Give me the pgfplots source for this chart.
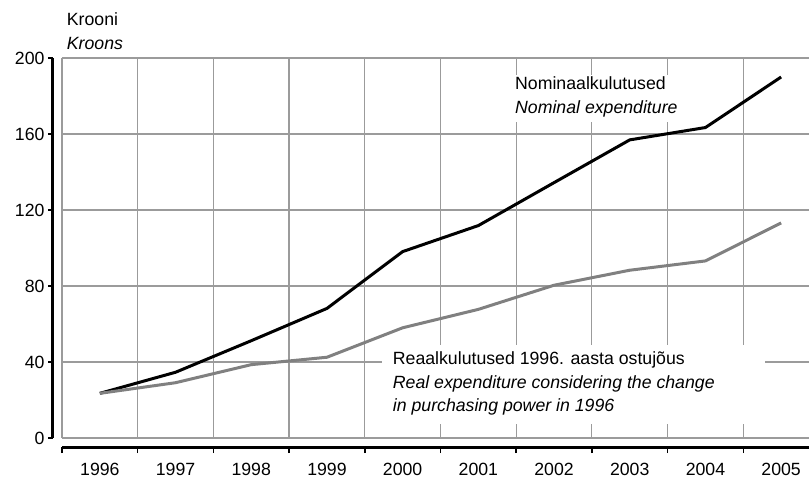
\documentclass[border=0pt]{standalone}
\usepackage{pgfplots}
\pgfplotsset{compat=1.18}
\usepackage{fontspec}
\setmainfont{Liberation Sans}
\definecolor{gridgray}{RGB}{155,155,155}
\definecolor{realgray}{RGB}{128,128,128}
\newcommand{\cf}{\fontsize{17.7}{20}\selectfont}
\begin{document}
\begin{tikzpicture}
\useasboundingbox (-62pt,-41pt) rectangle (747pt,438pt);
% main axis: grid and data
\begin{axis}[at={(0,0)}, anchor=south west, scale only axis,
  width=747pt, height=380pt,
  xmin=1995.5, xmax=2005.368, ymin=0, ymax=200,
  axis line style={draw=none},
  xtick={1995.5,1996.5,1997.5,1998.5,1999.5,2000.5,2001.5,2002.5,2003.5,2004.5},
  ytick={0,40,80,120,160,200},
  xticklabels={}, yticklabels={},
  major tick length=0pt,
  grid=major, grid style={line width=1.2pt, color=gridgray}]
\addplot[black, line width=3pt] coordinates {
 (1996,23.5) (1997,34.6) (1998,51.2) (1999,68.2) (2000,98.1)
 (2001,111.8) (2002,134.4) (2003,156.9) (2004,163.4) (2005,190.0)};
\addplot[realgray, line width=3pt] coordinates {
 (1996,23.5) (1997,29.1) (1998,38.6) (1999,42.5) (2000,58.0)
 (2001,67.7) (2002,80.4) (2003,88.3) (2004,93.2) (2005,113.2)};
\end{axis}
% y axis
\begin{axis}[at={(-9pt,0)}, anchor=south west, scale only axis,
  width=747pt, height=380pt,
  xmin=1995.5, xmax=2005.368, ymin=0, ymax=200,
  axis y line*=left, axis x line=none,
  ytick={0,40,80,120,160,200},
  tick align=outside, major tick length=5pt,
  every tick/.style={black, line width=1.5pt},
  axis line style={line width=3pt, black},
  yticklabel style={font=\cf},
  /pgf/number format/assume math mode=true]
\end{axis}
% x axis
\begin{axis}[at={(0,-9.5pt)}, anchor=south west, scale only axis,
  width=747pt, height=380pt,
  xmin=1995.5, xmax=2005.368, ymin=0, ymax=200,
  axis x line*=bottom, axis y line=none,
  xtick={1995.5,1996.5,1997.5,1998.5,1999.5,2000.5,2001.5,2002.5,2003.5,2004.5},
  xticklabel={\pgfmathparse{int(round(\tick+0.5))}\pgfmathresult},
  xticklabel style={font=\cf, xshift=37.85pt, yshift=-7pt},
  tick align=outside, major tick length=5.5pt,
  every tick/.style={black, line width=1.5pt},
  axis line style={line width=3pt, black}]
\end{axis}
% y label
\node[anchor=base west, inner sep=0pt, font=\cf] at (4.7pt,412pt) {Krooni};
\node[anchor=base west, inner sep=0pt, font=\cf\itshape] at (4.7pt,388pt) {Kroons};
% nominal label
\fill[white] (448pt,316pt) rectangle (618pt,363pt);
\node[anchor=base west, inner sep=0pt, font=\cf] at (453pt,348pt) {Nominaalkulutused};
\node[anchor=base west, inner sep=0pt, font=\cf\itshape] at (453pt,324.7pt) {Nominal expenditure};
% real label
\fill[white] (320pt,14pt) rectangle (703pt,93pt);
\node[anchor=base west, inner sep=0pt, font=\cf] at (330.7pt,73.8pt) {Reaalkulutused 1996. aasta ostujõus};
\node[anchor=base west, inner sep=0pt, font=\cf\itshape] at (330.7pt,49.7pt) {Real expenditure considering the change};
\node[anchor=base west, inner sep=0pt, font=\cf\itshape] at (330.7pt,26.3pt) {in purchasing power in 1996};
\end{tikzpicture}
\end{document}
